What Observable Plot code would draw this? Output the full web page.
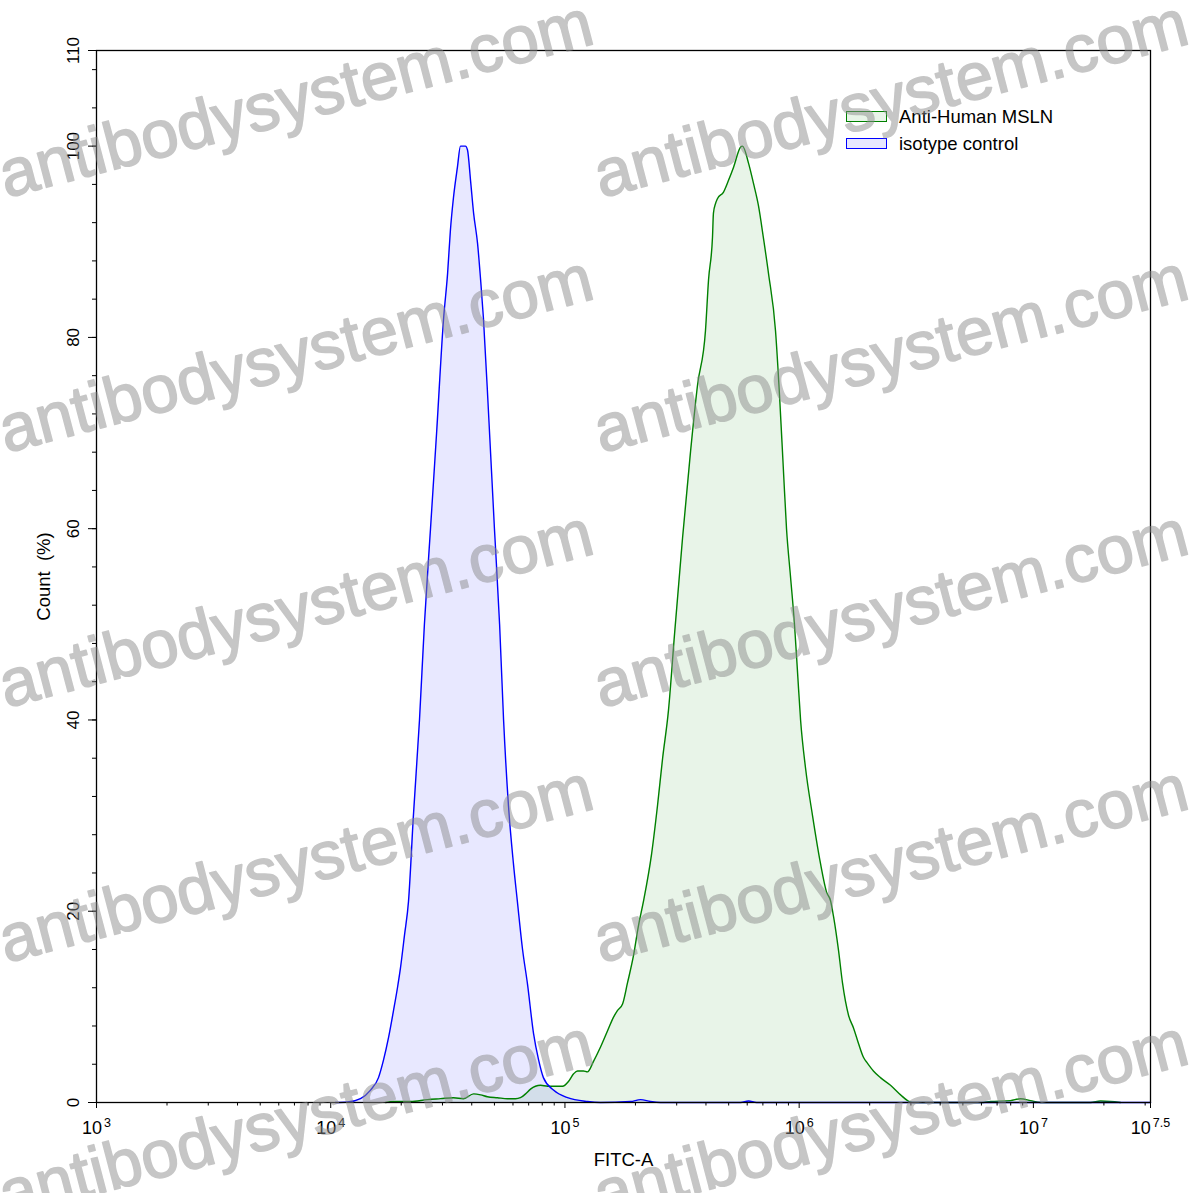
<!DOCTYPE html>
<html><head><meta charset="utf-8">
<script src="https://cdn.jsdelivr.net/npm/d3@7"></script>
<script src="https://cdn.jsdelivr.net/npm/@observablehq/plot@0.6"></script>
<style>
html,body{margin:0;padding:0;background:#fff;}
#wrap{position:relative;width:1197px;height:1193px;overflow:hidden;font-family:"Liberation Sans",Arial,sans-serif;}
#legend{position:absolute;left:846px;top:103px;font-size:18.5px;color:#000;}
.item{display:flex;align-items:center;height:27px;}
.sw{width:39px;height:9px;border:1.5px solid;margin-right:12px;}
#wm{position:absolute;left:0;top:0;pointer-events:none;}
</style></head><body><div id="wrap"></div>
<script>
// isotype control (log10 FITC-A, Count %)
const isoExp = [4.020,4.072,4.127,4.170,4.204,4.225,4.247,4.268,4.285,4.298,4.315,4.332,4.353,4.379,4.400,4.426,4.452,4.482,4.499,4.511,4.524,4.541,4.554,4.575,4.584,4.597,4.610,4.627,4.640,4.652,4.674,4.699,4.721,4.738,4.759,4.780,4.797,4.819,4.840,4.866,4.887,4.908,4.951,5.011,5.096,5.152,5.280,5.323,5.365,5.408,5.750,5.784,5.818,7.5];
const isoPct = [0,0.05,0.4,1.3,2.6,4.4,6.8,9.6,12,14.1,17.5,21,30,40,50,60,70,82,86.7,91.2,94.6,97.8,100,100,99.6,96.4,93,89.8,86,82,72,60,50,40,31,25,21,16,12.4,7.2,4.5,2.6,1.3,0.5,0.1,0,0.1,0.3,0.1,0,0,0.15,0,0];
// Anti-Human MSLN
const mslnExp = [4.234,4.268,4.341,4.413,4.469,4.524,4.567,4.610,4.640,4.669,4.712,4.755,4.789,4.810,4.832,4.853,4.874,4.896,4.926,4.951,4.990,5.015,5.037,5.054,5.079,5.096,5.122,5.152,5.182,5.207,5.224,5.246,5.267,5.293,5.314,5.335,5.370,5.395,5.417,5.442,5.468,5.502,5.536,5.566,5.600,5.613,5.630,5.634,5.643,5.651,5.677,5.698,5.720,5.750,5.758,5.784,5.805,5.826,5.848,5.869,5.899,5.916,5.933,5.946,5.963,5.980,5.993,6.006,6.027,6.057,6.091,6.117,6.134,6.147,6.168,6.185,6.211,6.232,6.253,6.275,6.292,6.317,6.347,6.390,6.433,6.463,6.484,6.774,6.817,6.902,6.945,6.988,7.030,7.244,7.287,7.329,7.372];
const mslnPct = [0,0.1,0.1,0.3,0.4,0.5,0.4,0.9,0.8,0.6,0.5,0.4,0.4,0.5,0.9,1.4,1.7,1.8,1.7,1.7,1.7,2.2,3.0,3.3,3.3,3.2,4.3,5.8,7.5,8.9,9.6,10.3,12.5,15.4,18.5,21,26,31,36,41,49,59,68,75,80.7,86,90.5,93,94,94.5,95.2,96.4,97.8,99.9,100,98.2,96.1,93.8,90.3,86.7,80.7,74,66,60,55,50,45,40,35,30,25,22,21.1,19.4,15.9,12.5,9.1,7.8,6.2,4.7,4.1,3.3,2.6,1.8,0.8,0.2,0,0,0.1,0.2,0.4,0.2,0,0,0.15,0.1,0];

const xMajorTicks = [3,4,5,6,7,7.5];
const xTickExponents = ["3","4","5","6","7","7.5"];
const yLabelTicks = [0,20,40,60,80,100,110];
const seriesNames = ["Anti-Human MSLN","isotype control"];
const seriesColors = ["#008000","#0000ff"];
const xTitle = "FITC-A";
const yTitle = "Count\u00a0 (%)";
const watermark = "antibodysystem.com";

const iso = isoExp.map((e,i)=>({e, p: isoPct[i]}));
const msln = mslnExp.map((e,i)=>({e, p: mslnPct[i]}));
const xMinor = [];
for (let d=3; d<=7; d++) for (let k=2; k<=9; k++){ const v = d+Math.log10(k); if (v<7.5) xMinor.push(v); }
const yMinor = d3.range(0,110,4);

const chart = Plot.plot({
  width:1197, height:1193, marginLeft:96, marginRight:47, marginTop:50, marginBottom:91,
  style:{fontFamily:"'Liberation Sans', Arial, sans-serif", fontSize:"18px", background:"#fff", color:"#000", overflow:"visible"},
  x:{domain:[3,7.5], label:null},
  y:{domain:[0,110], label:null},
  marks:[
    Plot.areaY(msln,{x:"e", y:"p", fill:seriesColors[0], fillOpacity:0.09, curve:"monotone-x"}),
    Plot.areaY(iso,{x:"e", y:"p", fill:seriesColors[1], fillOpacity:0.09, curve:"monotone-x"}),
    Plot.lineY(msln,{x:"e", y:"p", stroke:seriesColors[0], strokeWidth:1.4, curve:"monotone-x"}),
    Plot.lineY(iso,{x:"e", y:"p", stroke:seriesColors[1], strokeWidth:1.4, curve:"monotone-x"}),
    Plot.axisX({ticks:xMinor, tickSize:3.5, tickFormat:()=>"", label:null}),
    Plot.axisX({ticks:xMajorTicks, tickSize:6, tickPadding:13, fontSize:18, label:null,
      tickFormat:d=>xTickExponents[xMajorTicks.indexOf(d)]}),
    Plot.axisY({ticks:yMinor, tickSize:4, tickFormat:()=>"", label:null}),
    Plot.axisY({ticks:yLabelTicks, tickSize:8, tickFormat:()=>"", label:null}),
    Plot.text(yLabelTicks,{y:d=>d, text:d=>String(d), frameAnchor:"left", dx:-23, rotate:-90, textAnchor:"middle", lineAnchor:"middle", fontSize:17}),
    Plot.text([yTitle],{frameAnchor:"left", dx:-52, rotate:-90, textAnchor:"middle", lineAnchor:"middle", fontSize:18.5}),
    Plot.text([xTitle],{frameAnchor:"bottom", dy:58, textAnchor:"middle", lineAnchor:"middle", fontSize:18.5}),
    Plot.frame({stroke:"#000", strokeWidth:1.3})
  ]
});

d3.select(chart).selectAll('g[aria-label="x-axis tick label"] text').each(function(){
  const e = this.textContent;
  if (!e) return;
  const t = d3.select(this);
  t.text("10");
  t.append("tspan").attr("dy","-0.6em").attr("dx","2").attr("font-size","12.5px").text(e);
});

const wrap = document.getElementById("wrap");
wrap.appendChild(chart);

// legend
const leg = document.createElement("div");
leg.id = "legend";
seriesNames.forEach((n,i)=>{
  const it = document.createElement("div"); it.className="item";
  const sw = document.createElement("div"); sw.className="sw";
  sw.style.borderColor = seriesColors[i];
  sw.style.background = d3.interpolateRgb("#fff", seriesColors[i])(0.09);
  const tx = document.createElement("span"); tx.textContent = n;
  it.appendChild(sw); it.appendChild(tx); leg.appendChild(it);
});
wrap.appendChild(leg);

// watermark overlay
const wm = d3.select(wrap).append("svg").attr("id","wm").attr("width",1197).attr("height",1193)
  .append("g").attr("opacity",0.5);
const rows = [198,453,708,963,1218], cols = [6,601];
rows.forEach(y=>cols.forEach(x=>{
  wm.append("text").attr("x",x).attr("y",y)
    .attr("transform",`rotate(-14.7 ${x} ${y})`)
    .attr("font-family","'Liberation Sans', Arial, sans-serif")
    .attr("font-size",67)
    .attr("fill","#8c8c8c")
    .attr("stroke","#8c8c8c").attr("stroke-width",1.6).attr("stroke-linejoin","round")
    .text(watermark);
}));
</script>
</body></html>
